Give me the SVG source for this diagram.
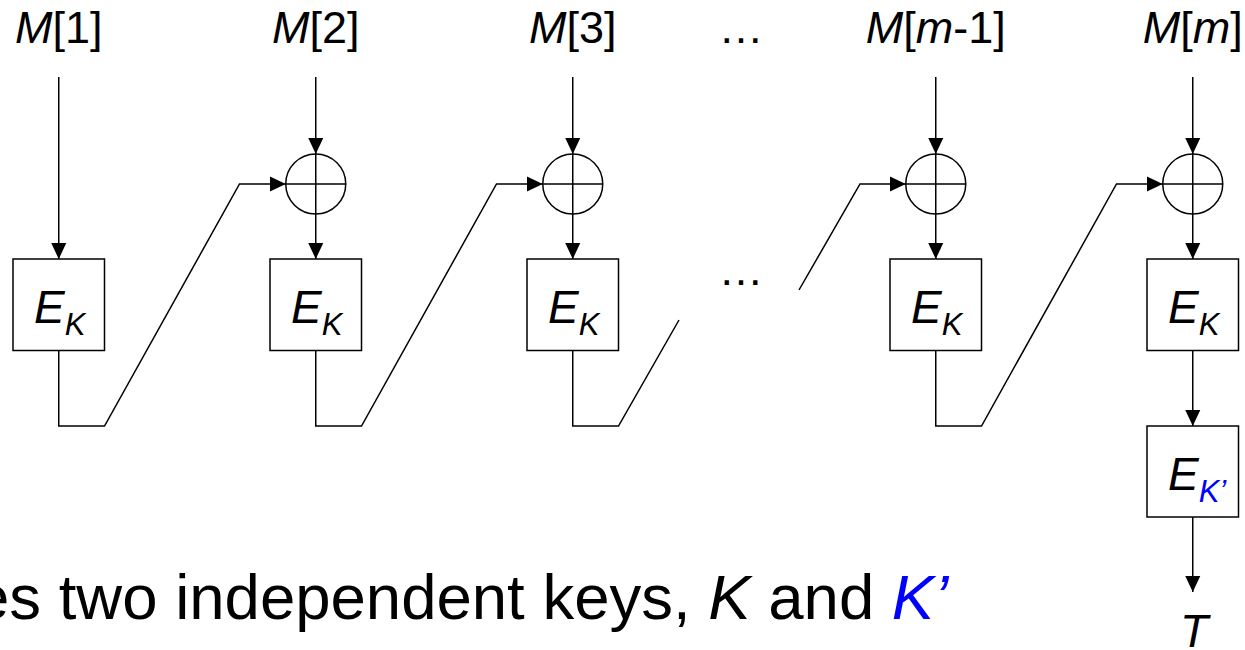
<svg xmlns="http://www.w3.org/2000/svg" width="1245" height="650" viewBox="0 0 1245 650">
<style>
text{font-family:"Liberation Sans",Arial,sans-serif;fill:#000}
.lbl{font-size:45px}
.ek{font-size:46px;font-style:italic}
.sub{font-size:31px}
.i{font-style:italic}
.blue{fill:#0000FF}
.ln{fill:none;stroke:#000;stroke-width:1.5}
.box{fill:#fff;stroke:#000;stroke-width:1.5}
.xor{fill:#fff;stroke:#000;stroke-width:1.5}
</style>
<defs>
<marker id="ah" markerUnits="userSpaceOnUse" markerWidth="16" markerHeight="16" viewBox="0 0 16 16" refX="16" refY="8" orient="auto">
<path d="M0,0.5 L16,8 L0,15.5 Z" fill="#000"/>
</marker>
</defs>
<rect x="0" y="0" width="1245" height="650" fill="#fff"/>

<g id="connectors">
<line class="ln" x1="58.75" y1="77" x2="58.75" y2="259" marker-end="url(#ah)"/>
<line class="ln" x1="315.75" y1="77" x2="315.75" y2="154" marker-end="url(#ah)"/>
<line class="ln" x1="572.75" y1="77" x2="572.75" y2="154" marker-end="url(#ah)"/>
<line class="ln" x1="935.75" y1="77" x2="935.75" y2="154" marker-end="url(#ah)"/>
<line class="ln" x1="1192.75" y1="77" x2="1192.75" y2="154" marker-end="url(#ah)"/>
<line class="ln" x1="315.75" y1="214" x2="315.75" y2="259" marker-end="url(#ah)"/>
<line class="ln" x1="572.75" y1="214" x2="572.75" y2="259" marker-end="url(#ah)"/>
<line class="ln" x1="935.75" y1="214" x2="935.75" y2="259" marker-end="url(#ah)"/>
<line class="ln" x1="1192.75" y1="214" x2="1192.75" y2="259" marker-end="url(#ah)"/>
<polyline class="ln" points="58.75,350.5 58.75,426 104.5,426 239.5,184 285.75,184" marker-end="url(#ah)"/>
<polyline class="ln" points="315.75,350.5 315.75,426 361.5,426 496.5,184 542.75,184" marker-end="url(#ah)"/>
<polyline class="ln" points="572.75,350.5 572.75,426 618.5,426 679,320"/>
<polyline class="ln" points="799,290 860,184 905.75,184" marker-end="url(#ah)"/>
<polyline class="ln" points="935.75,350.5 935.75,426 981.5,426 1116.5,184 1162.75,184" marker-end="url(#ah)"/>
<line class="ln" x1="1192.75" y1="350.5" x2="1192.75" y2="426" marker-end="url(#ah)"/>
<line class="ln" x1="1192.75" y1="517" x2="1192.75" y2="592" marker-end="url(#ah)"/>
</g>

<g id="labels">
<text class="lbl" x="58.75" y="43" text-anchor="middle"><tspan class="i">M</tspan>[1]</text>
<text class="lbl" x="315.75" y="43" text-anchor="middle"><tspan class="i">M</tspan>[2]</text>
<text class="lbl" x="572.75" y="43" text-anchor="middle"><tspan class="i">M</tspan>[3]</text>
<text class="lbl" x="741" y="43" text-anchor="middle">…</text>
<text class="lbl" x="935.75" y="43" text-anchor="middle"><tspan class="i">M</tspan>[<tspan class="i">m</tspan>-1]</text>
<text class="lbl" x="1192.75" y="43" text-anchor="middle"><tspan class="i">M</tspan>[<tspan class="i">m</tspan>]</text>
<text class="lbl" x="741" y="285" text-anchor="middle">…</text>
</g>

<g id="xor2"><circle class="xor" cx="315.75" cy="184" r="30"/><path class="ln" d="M285.75,184H345.75M315.75,154V214"/></g>
<g id="xor3"><circle class="xor" cx="572.75" cy="184" r="30"/><path class="ln" d="M542.75,184H602.75M572.75,154V214"/></g>
<g id="xor4"><circle class="xor" cx="935.75" cy="184" r="30"/><path class="ln" d="M905.75,184H965.75M935.75,154V214"/></g>
<g id="xor5"><circle class="xor" cx="1192.75" cy="184" r="30"/><path class="ln" d="M1162.75,184H1222.75M1192.75,154V214"/></g>

<g id="e1"><rect class="box" x="13" y="259" width="91.5" height="91.5"/><text class="ek" x="34" y="323">E<tspan class="sub" dy="12">K</tspan></text></g>
<g id="e2"><rect class="box" x="270" y="259" width="91.5" height="91.5"/><text class="ek" x="291" y="323">E<tspan class="sub" dy="12">K</tspan></text></g>
<g id="e3"><rect class="box" x="527" y="259" width="91.5" height="91.5"/><text class="ek" x="548" y="323">E<tspan class="sub" dy="12">K</tspan></text></g>
<g id="e4"><rect class="box" x="890" y="259" width="91.5" height="91.5"/><text class="ek" x="911" y="323">E<tspan class="sub" dy="12">K</tspan></text></g>
<g id="e5"><rect class="box" x="1147" y="259" width="91.5" height="91.5"/><text class="ek" x="1168" y="323">E<tspan class="sub" dy="12">K</tspan></text></g>
<g id="e6"><rect class="box" x="1147" y="426" width="91.5" height="91" /><text class="ek" x="1168" y="490">E<tspan class="sub blue" dy="12">K’</tspan></text></g>

<g id="tag"><text class="ek" x="1194" y="647" text-anchor="middle">T</text></g>

<g id="caption"><text x="-26" y="619" font-size="63.5">es two independent keys, <tspan class="i">K</tspan> and <tspan class="i blue">K’</tspan></text></g>
</svg>
